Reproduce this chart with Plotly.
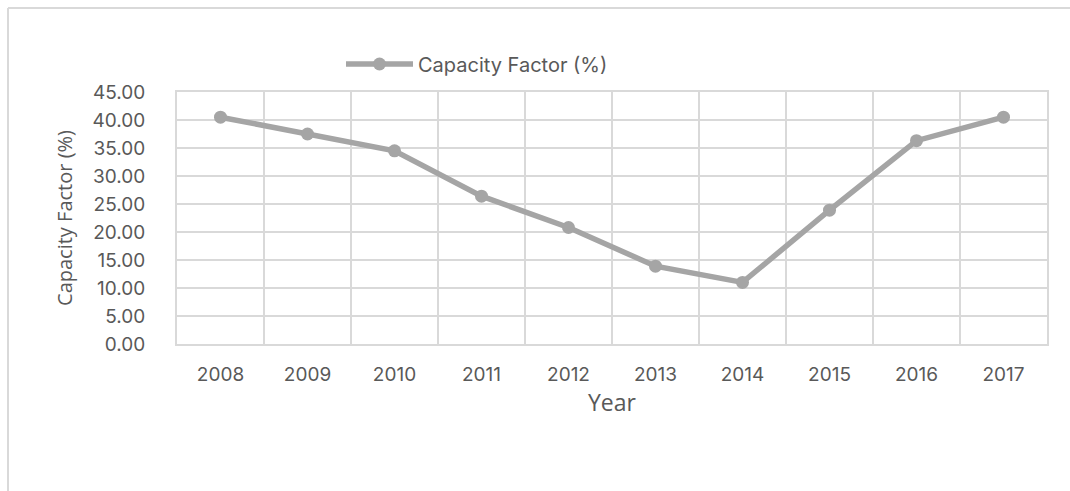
import plotly.graph_objects as go

years = ["2008", "2009", "2010", "2011", "2012", "2013", "2014", "2015", "2016", "2017"]
capacity_factor = [40.5, 37.5, 34.5, 26.4, 20.8, 13.9, 11.0, 23.9, 36.3, 40.5]
series_name = "Capacity Factor (%)"
y_ticks = [0, 5, 10, 15, 20, 25, 30, 35, 40, 45]

W, H = 1070, 491
L, R, T, B = 177, 23, 92, 147
pw, ph = W - L - R, H - T - B

def px(x):
    return (x - L) / pw

def py(y):
    return (H - B - y) / ph

grey = "#a5a5a5"
grid = "#d9d9d9"
txt = "#595959"
tick_font = "Inter, DejaVu Sans, sans-serif"

fig = go.Figure()
fig.add_trace(go.Scatter(
    x=years, y=capacity_factor, name=series_name,
    mode="lines+markers",
    line=dict(color=grey, width=5.5),
    marker=dict(color=grey, size=13),
    showlegend=True,
))

fig.update_layout(
    width=W, height=H,
    margin=dict(l=L, r=R, t=T, b=B, pad=0),
    paper_bgcolor="white", plot_bgcolor="white",
    font=dict(family=tick_font, color=txt, size=19),
    showlegend=True,
    legend=dict(
        orientation="h", x=px(341), xanchor="left", y=py(64), yanchor="middle",
        font=dict(family=tick_font, size=20, color=txt), itemwidth=67,
        bgcolor="rgba(0,0,0,0)",
    ),
    xaxis=dict(
        type="category", range=[-0.5, 9.5], tickson="boundaries", showgrid=True,
        gridcolor=grid, gridwidth=2,
        showline=True, linecolor=grid, linewidth=2, mirror=True, ticks="",
        tickfont=dict(family=tick_font, size=19, color=txt), ticklabelstandoff=12,
        title=dict(text="Year", font=dict(family="Open Sans", size=23, color=txt), standoff=6),
        zeroline=False,
    ),
    yaxis=dict(
        range=[0, 45], tickvals=y_ticks, tickformat=".2f", showgrid=True, gridcolor=grid,
        gridwidth=2, showline=True, linecolor=grid, linewidth=2, mirror=True, ticks="",
        tickfont=dict(family=tick_font, size=19, color=txt), ticklabelstandoff=26,
        zeroline=False,
        title=dict(text="Capacity Factor (%)", font=dict(family="Open Sans", size=20, color=txt),
                   standoff=14),
    ),
    shapes=[
        dict(type="line", xref="paper", yref="paper",
             x0=px(8), x1=px(1075), y0=py(8), y1=py(8),
             line=dict(color=grid, width=2), layer="below"),
        dict(type="line", xref="paper", yref="paper",
             x0=px(8), x1=px(8), y0=py(8), y1=py(495),
             line=dict(color=grid, width=2), layer="below"),
    ],
)

fig.write_html("out.html")
